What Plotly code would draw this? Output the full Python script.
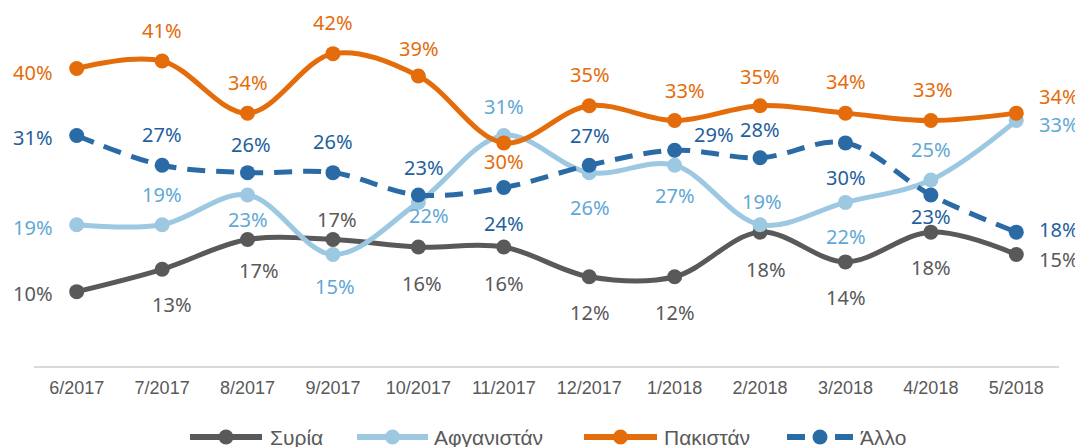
import plotly.graph_objects as go

months = ["6/2017", "7/2017", "8/2017", "9/2017", "10/2017", "11/2017",
          "12/2017", "1/2018", "2/2018", "3/2018", "4/2018", "5/2018"]

syria = [10, 13, 17, 17, 16, 16, 12, 12, 18, 14, 18, 15]
afghanistan = [19, 19, 23, 15, 22, 31, 26, 27, 19, 22, 25, 33]
pakistan = [40, 41, 34, 42, 39, 30, 35, 33, 35, 34, 33, 34]
other = [31, 27, 26, 26, 23, 24, 27, 29, 28, 30, 23, 18]

series_names = ["Συρία", "Αφγανιστάν", "Πακιστάν", "Άλλο"]

# style: label offsets (px) relative to each marker: (dx, dy up)
off_syria = [(-44, -1), (10, -35), (11, -30), (4, 21), (4, -36), (0, -36),
             (1, -35), (0, -35), (6, -37), (1, -35), (0, -35), (43, -5)]
off_afgh = [(-44, -2), (0, 31), (0, -24), (2, -32), (11, -13), (0, 29),
            (1, -34), (0, -30), (2, 24), (1, -34), (0, 31), (43, -3)]
off_pak = [(-44, -3), (0, 31), (0, 31), (0, 32), (1, 28), (0, -18),
           (1, 32), (10, 31), (0, 30), (1, 32), (2, 32), (43, 17)]
off_other = [(-44, -2), (0, 31), (3, 29), (0, 32), (6, 28), (0, -35),
             (1, 30), (39, 16), (0, 29), (1, -34), (0, -21), (43, 3)]

line_colors = ["#595959", "#9DC8E2", "#E46C0A", "#2A6AA5"]
label_colors = ["#595959", "#62A8D5", "#E46C0A", "#1F5F9E"]
dashes = ["solid", "solid", "solid", "18px,11px"]
legend_dashes = ["solid", "solid", "solid", "18px,30px,18px"]

all_values = [syria, afghanistan, pakistan, other]
all_offsets = [off_syria, off_afgh, off_pak, off_other]

# layout geometry (window pixels; page body adds an 8px margin)
W, H = 1083, 447
BODY = 8
PLOT_L, PLOT_R, PLOT_T, PLOT_B = 34, 1059, 9, 366
legend_line_px = [(190, 262), (357, 428), (584, 657), (787, 853)]
legend_text_px = [268, 432, 662, 858]
legend_y_px = 437


def px_to_paper_x(px):
    return (px - PLOT_L) / (PLOT_R - PLOT_L)


def px_to_paper_y(py):
    return (PLOT_B - py) / (PLOT_B - PLOT_T)


fig = go.Figure()
annotations = []
shapes = []
for name, vals, offs, lc, tc, dash in zip(series_names, all_values, all_offsets,
                                          line_colors, label_colors, dashes):
    fig.add_trace(go.Scatter(
        x=months, y=vals, name=name, mode="lines+markers",
        line=dict(color=lc, width=5, shape="spline", smoothing=1.0, dash=dash),
        marker=dict(color=lc, size=15),
        cliponaxis=False, showlegend=False,
    ))
    for m, v, (dx, dy) in zip(months, vals, offs):
        annotations.append(dict(
            x=m, y=v, xref="x", yref="y", text=f"{v}%", showarrow=False,
            xshift=dx, yshift=dy, xanchor="center", yanchor="middle", height=22,
            font=dict(family="Noto Sans", size=20, color=tc),
        ))

# legend (line + marker symbol and series name)
ly = px_to_paper_y(legend_y_px)
for name, lc, ld, (x0, x1), tx in zip(series_names, line_colors, legend_dashes,
                                      legend_line_px, legend_text_px):
    shapes.append(dict(type="line", xref="paper", yref="paper",
                       x0=px_to_paper_x(x0), x1=px_to_paper_x(x1), y0=ly, y1=ly,
                       line=dict(color=lc, width=6, dash=ld)))
    xc = px_to_paper_x((x0 + x1) / 2)
    shapes.append(dict(type="circle", xref="paper", yref="paper",
                       xsizemode="pixel", ysizemode="pixel", xanchor=xc, yanchor=ly,
                       x0=-7.5, x1=7.5, y0=-7.5, y1=7.5,
                       fillcolor=lc, line=dict(color=lc, width=0)))
    annotations.append(dict(x=px_to_paper_x(tx), y=ly, xref="paper", yref="paper",
                            text=name, showarrow=False, xanchor="left", yanchor="middle",
                            height=20,
                            font=dict(family="Liberation Sans", size=21, color="#595959")))

fig.update_layout(
    width=W - BODY, height=H - BODY,
    margin=dict(l=PLOT_L - BODY, r=W - PLOT_R, t=PLOT_T - BODY, b=H - PLOT_B,
                autoexpand=False),
    plot_bgcolor="white", paper_bgcolor="white",
    showlegend=False,
    annotations=annotations,
    shapes=shapes,
    xaxis=dict(type="category", range=[-0.5, 11.5], showgrid=False,
               showline=True, linecolor="#D9D9D9", linewidth=1.5,
               ticks="", ticklabelstandoff=5,
               tickfont=dict(family="Liberation Sans", size=18, color="#595959"),
               zeroline=False, automargin=False),
    yaxis=dict(range=[0, 48], showgrid=False, showline=False, showticklabels=False,
               zeroline=False, ticks="", automargin=False),
)

fig.write_html("out.html")
